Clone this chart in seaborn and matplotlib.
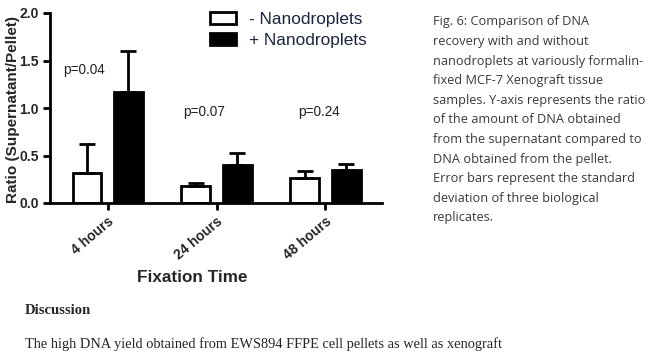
import matplotlib
matplotlib.use("Agg")
import matplotlib.pyplot as plt
import seaborn as sns
import pandas as pd

# ---- data ----
fixation_times = ["4 hours", "24 hours", "48 hours"]
groups = ["- Nanodroplets", "+ Nanodroplets"]
ratio_minus = [0.32, 0.18, 0.26]
ratio_plus = [1.17, 0.40, 0.35]
sd_minus = [0.30, 0.03, 0.08]
sd_plus = [0.43, 0.13, 0.06]
p_values = ["p=0.04", "p=0.07", "p=0.24"]
y_ticks = [0.0, 0.5, 1.0, 1.5, 2.0]

caption_lines = [
    "Fig. 6: Comparison of DNA",
    "recovery with and without",
    "nanodroplets at variously formalin-",
    "fixed MCF-7 Xenograft tissue",
    "samples. Y-axis represents the ratio",
    "of the amount of DNA obtained",
    "from the supernatant compared to",
    "DNA obtained from the pellet.",
    "Error bars represent the standard",
    "deviation of three biological",
    "replicates.",
]
heading = "Discussion"
body_line = "The high DNA yield obtained from EWS894 FFPE cell pellets as well as xenograft"

df = pd.DataFrame({
    "time": fixation_times * 2,
    "group": [groups[0]] * 3 + [groups[1]] * 3,
    "ratio": ratio_minus + ratio_plus,
    "sd": sd_minus + sd_plus,
})

sns.set_theme(style="white")
plt.rcParams["font.family"] = ["Liberation Sans", "DejaVu Sans"]

W, H = 657, 352
fig = plt.figure(figsize=(W / 100, H / 100), dpi=100)
fig.patch.set_facecolor("white")

def fx(px):
    return px / W

def fy(py):
    return 1 - py / H

ax_l, ax_r, ax_t, ax_b = 50, 382, 13, 203
ax = fig.add_axes([fx(ax_l), fy(ax_b), fx(ax_r - ax_l), (ax_b - ax_t) / H])

sns.barplot(data=df, x="time", y="ratio", hue="group", order=fixation_times,
            hue_order=groups, palette=["white", "black"], errorbar=None,
            width=0.76, gap=0.3, edgecolor="black", linewidth=2.0,
            saturation=1, ax=ax, legend=True)

# upward-only error bars from data
bars = [p for p in ax.patches if p.get_height() > 0 or p.get_width() > 0][:6]
sds = sd_minus + sd_plus
for bar, sd in zip(bars, sds):
    xc = bar.get_x() + bar.get_width() / 2
    h = bar.get_height()
    ax.errorbar([xc], [h], yerr=[[0], [sd]], fmt="none", ecolor="black",
                elinewidth=2.0, capsize=6, capthick=2.0, zorder=1)

ax.set_ylim(0, 2.0)
ax.set_xlim(-0.53, 2.52)
ax.set_yticks(y_ticks)
ax.set_yticklabels([f"{v:.1f}" for v in y_ticks], fontweight="bold", fontsize=10)
ax.set_xticks(range(len(fixation_times)))
ax.set_xticklabels(fixation_times, rotation=40, ha="right", rotation_mode="anchor",
                   fontweight="bold", fontsize=10)
for s in ["top", "right"]:
    ax.spines[s].set_visible(False)
for s in ["left", "bottom"]:
    ax.spines[s].set_linewidth(2.0)
    ax.spines[s].set_color("black")
ax.tick_params(axis="both", which="both", length=5, width=2.0, color="black",
               left=True, bottom=True, pad=3)
ax.set_ylabel("Ratio (Supernatant/Pellet)", fontweight="bold", fontsize=11)
ax.set_xlabel("")
ax.yaxis.set_label_coords(-0.09, 0.49)

# p-values
p_pos_y = [1.40, 0.96, 0.96]
p_pos_x = [-0.22, 0.89, 1.945]
for xp, yp, t in zip(p_pos_x, p_pos_y, p_values):
    ax.text(xp, yp, t, fontsize=9.8, color="#222222", ha="center", va="center")

# legend
leg = ax.get_legend()
handles = leg.legend_handles
leg.remove()
leg = fig.legend(handles, groups, loc="upper left",
                 bbox_to_anchor=(fx(210), fy(12)), frameon=False, fontsize=12.4,
                 handlelength=1.5, handleheight=0.7, handletextpad=0.75,
                 labelspacing=0.36, borderaxespad=0, borderpad=0)
for h in leg.legend_handles:
    h.set_edgecolor("black")
    h.set_linewidth(2.0)
for t in leg.get_texts():
    t.set_color("#1c2540")

fig.text(fx(192), fy(278), "Fixation Time", fontweight="bold", fontsize=12.3,
         ha="center", va="center")

# caption
for i, line in enumerate(caption_lines):
    fig.text(fx(433), fy(22 + i * 19.6), line, fontsize=9.2, color="#3a3a3a",
             family=["Open Sans", "DejaVu Sans"], ha="left", va="center")

fig.text(fx(25), fy(311), heading, fontsize=10.6, fontweight="bold",
         family=["Liberation Serif", "DejaVu Serif"], ha="left", va="center")
fig.text(fx(25), fy(351), body_line, fontsize=10.4,
         family=["Liberation Serif", "DejaVu Serif"], ha="left", va="bottom")

fig.savefig("out.png", dpi=100)
